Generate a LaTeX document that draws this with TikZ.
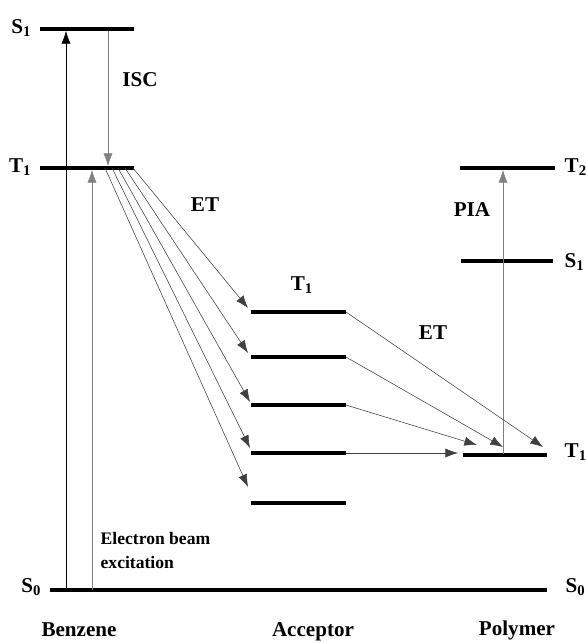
\documentclass[tikz,border=0pt]{standalone}
\usepackage{fontspec}
\setmainfont{Liberation Serif}
\usetikzlibrary{arrows.meta}

\tikzset{
  level/.style={line width=2.6pt},
  excite/.style={thin, -{Latex[length=9pt,width=6.5pt]}},
  soft/.style={excite, gray},
  transfer/.style={excite, black!75},
  lbl/.style={font=\bfseries\fontsize{15}{17}\selectfont, inner sep=1pt},
}

\begin{document}
\begin{tikzpicture}[x=0.025cm, y=-0.025cm]
  \useasboundingbox (0,0) rectangle (585,643);
  % Benzene levels
  \begin{scope}
    \coordinate (bS1a) at (40,29);  \coordinate (bS1b) at (134,29);
    \coordinate (bT1a) at (40,168); \coordinate (bT1b) at (134,168);
    \draw [level] (bS1a) -- (bS1b);
    \draw [level] (bT1a) -- (bT1b);
    \node[lbl, anchor=east] (bS1) at (33,28) {S\textsubscript{1}};
    \node[lbl, anchor=east] (bT1) at (33,167) {T\textsubscript{1}};
  \end{scope}
  % ground state
  \coordinate (S0a) at (50,590); \coordinate (S0b) at (547,590);
  \draw [level] (S0a) -- (S0b);
  \node[lbl, anchor=east] (S0l) at (43,587) {S\textsubscript{0}};
  \node[lbl, anchor=west] (S0r) at (564,587) {S\textsubscript{0}};
  % Acceptor levels
  \begin{scope}
    \foreach \i/\y in {1/312, 2/357, 3/405, 4/453, 5/503} {
      \coordinate (aL\i) at (251,\y);
      \coordinate (aR\i) at (346,\y);
      \draw [level] (aL\i) -- (aR\i);
    }
    \node[lbl] (aT1) at (302,285) {T\textsubscript{1}};
  \end{scope}
  % Polymer levels
  \begin{scope}
    \coordinate (pT2a) at (460,168); \coordinate (pT2b) at (555,168);
    \coordinate (pS1a) at (461,261); \coordinate (pS1b) at (553,261);
    \coordinate (pT1a) at (463,455); \coordinate (pT1b) at (547,455);
    \draw [level] (pT2a) -- (pT2b);
    \draw [level] (pS1a) -- (pS1b);
    \draw [level] (pT1a) -- (pT1b);
    \node[lbl, anchor=west] (pT2) at (563,167) {T\textsubscript{2}};
    \node[lbl, anchor=west] (pS1) at (563,262) {S\textsubscript{1}};
    \node[lbl, anchor=west] (pT1) at (563,452) {T\textsubscript{1}};
  \end{scope}
  % vertical transitions
  \coordinate (exc0) at (66,590);  \coordinate (exc1) at (66,31);
  \coordinate (eb0) at (92,590);   \coordinate (eb1) at (92,170);
  \coordinate (isc0) at (108,31);  \coordinate (isc1) at (108,166);
  \coordinate (pia0) at (503,454); \coordinate (pia1) at (503,170);
  \draw [excite] (exc0) -- (exc1);
  \draw [soft] (eb0) -- (eb1);
  \draw [soft] (isc0) -- (isc1);
  \draw [soft] (pia0) -- (pia1);
  % benzene -> acceptor
  \foreach \i/\sx/\ex/\ey in {1/133/248/308, 2/125/248/353, 3/118/250/402, 4/112/250/448, 5/105/248/487} {
    \coordinate (s\i) at (\sx,168);
    \coordinate (e\i) at (\ex,\ey);
    \draw [transfer] (s\i) -- (e\i);
  }
  % acceptor -> polymer
  \coordinate (f1) at (543,447);
  \coordinate (f2) at (503,447);
  \coordinate (f3) at (477,445);
  \coordinate (f4) at (458,453);
  \foreach \i in {1,...,4}
    \draw [transfer] (aR\i) -- (f\i);
  % labels
  \node[lbl] (isc) at (140,80) {ISC};
  \node[lbl] (et1) at (205,205) {ET};
  \node[lbl] (et2) at (433,333) {ET};
  \node[lbl] (pia) at (472,210) {PIA};
  \node[lbl, font=\bfseries\fontsize{12.5}{17}\selectfont, anchor=north west, align=left] (beam) at (99,531) {Electron beam\\excitation};
  \node[lbl] (benz) at (79,630) {Benzene};
  \node[lbl] (acc) at (313,632) {Acceptor};
  \node[lbl] (poly) at (517,630) {Polymer};
\end{tikzpicture}
\end{document}
